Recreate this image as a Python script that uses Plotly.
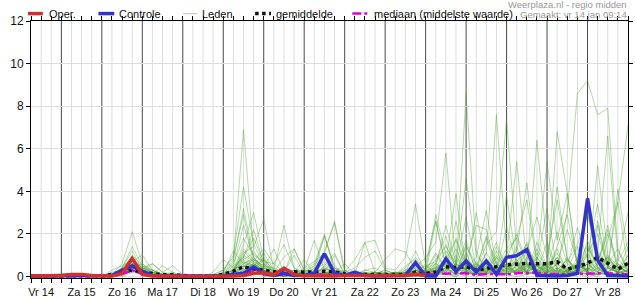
import pandas as pd
import plotly.graph_objects as go

# ---------------- data ----------------
times = pd.date_range("2022-01-14 06:00", periods=60, freq="6h")
label_dates = pd.date_range("2022-01-14 12:00", periods=15, freq="D")
day_labels = ["Vr 14", "Za 15", "Zo 16", "Ma 17", "Di 18", "Wo 19", "Do 20", "Vr 21",
              "Za 22", "Zo 23", "Ma 24", "Di 25", "Wo 26", "Do 27", "Vr 28"]
grid_times = pd.date_range("2022-01-14 06:00", "2022-01-28 18:00", freq="6h")
y_ticks = [0, 2, 4, 6, 8, 10, 12]

oper = [0.02, 0.02, 0.03, 0.05, 0.1, 0.1, 0.05, 0.02,
        0.02, 0.15, 0.85, 0.1, 0.02, 0.02, 0, 0, 0, 0, 0, 0,
        0.02, 0.05, 0.15, 0.18, 0.08, 0.38, 0.1, 0.03, 0.02, 0.02,
        0.02, 0.05, 0.05, 0.08, 0.08, 0.08, 0.08, 0.05, 0.1, 0.05]

controle = [0.02, 0.02, 0.02, 0.03, 0.05, 0.05, 0.03, 0.02,
            0.05, 0.3, 0.5, 0.25, 0.05, 0.02, 0.02, 0, 0, 0, 0, 0.02,
            0.1, 0.15, 0.45, 0.15, 0.05, 0.15, 0.05, 0.05, 0.15, 1.07,
            0.15, 0.05, 0.2, 0.05, 0.02, 0.02, 0.02, 0.05, 0.65, 0.02,
            0.02, 0.83, 0.23, 0.73, 0.2, 0.73, 0.1, 0.9, 0.98, 1.27,
            0.05, 0.02, 0.02, 0.05, 0.15, 3.67, 0.77, 0.05, 0.02, 0.02]

gemiddelde = [0.02, 0.03, 0.05, 0.05, 0.05, 0.05, 0.03, 0.03,
              0.1, 0.2, 0.3, 0.2, 0.12, 0.08, 0.08, 0.03, 0.02, 0.02, 0.03, 0.1,
              0.25, 0.46, 0.35, 0.3, 0.22, 0.25, 0.22, 0.2, 0.22, 0.25,
              0.22, 0.12, 0.1, 0.1, 0.1, 0.08, 0.08, 0.1, 0.2, 0.15,
              0.2, 0.46, 0.42, 0.46, 0.3, 0.4, 0.46, 0.55, 0.6, 0.62,
              0.6, 0.6, 0.69, 0.35, 0.46, 0.62, 0.9, 0.62, 0.35, 0.62]

mediaan = [0, 0, 0.02, 0.03, 0.03, 0.03, 0, 0,
           0.02, 0.1, 0.3, 0.12, 0.05, 0.02, 0.02, 0, 0, 0, 0, 0.02,
           0.08, 0.2, 0.22, 0.1, 0.08, 0.1, 0.08, 0.05, 0.08, 0.1,
           0.08, 0.05, 0.03, 0.05, 0.05, 0.05, 0.05, 0.05, 0.1, 0.08,
           0.12, 0.15, 0.15, 0.15, 0.08, 0.12, 0.12, 0.1, 0.15, 0.18,
           0.18, 0.12, 0.1, 0.1, 0.12, 0.15, 0.15, 0.15, 0.12, 0.1]

leden = [
    [0, 0, 0, 0.05, 0.1, 0.05, 0, 0, 0, 0.2, 0.5, 0.2, 0.1, 0, 0, 0, 0, 0, 0, 0.2, 0.8, 6.9, 1.2, 0.5,
     0.1, 0.3, 0, 0, 0.1, 0.2, 0, 0, 0, 0, 0.1, 0, 0, 0.1,
     0.2, 0, 0.3, 0.8, 0.2, 1.1, 0.1, 0.3, 1.4, 0.4, 0.1, 1.6, 0.3, 0.6, 0.2, 3.1, 8.6, 9.2, 7.6, 7.9, 1.2, 0.3],
    [0, 0, 0.05, 0.05, 0.05, 0.05, 0, 0, 0.05, 0.3, 0.8, 0.4, 0.2, 0.1, 0, 0, 0, 0, 0.05, 0.3, 1.0, 4.2, 1.5, 0.6,
     0.2, 0, 0.2, 0.1, 0, 0.5, 0.1, 0, 0, 0.1, 0, 0.2, 0, 0.1,
     0.3, 0.1, 0.6, 1.5, 0.4, 8.6, 1.2, 0.2, 0.5, 0.1, 0.8, 0.2, 1.6, 0.5, 0.1, 0.3, 1.4, 0.2, 0.6, 2.4, 0.3, 0.1],
    [0, 0, 0, 0, 0.05, 0.1, 0.05, 0, 0, 0.4, 1.4, 0.5, 0.2, 0, 0.1, 0, 0, 0, 0, 0.1, 0.5, 2.4, 0.9, 0.4,
     0.3, 2.4, 0.4, 0.1, 0, 0.1, 0.3, 0, 0, 0, 0.1, 0, 0, 0.2,
     0.6, 0.1, 0.2, 0.4, 1.8, 0.5, 0.2, 1.1, 7.6, 1.2, 0.3, 0.6, 0.1, 0.2, 0.9, 0.2, 0.5, 1.5, 0.4, 0.1, 0.7, 1.6],
    [0, 0.05, 0.1, 0.1, 0.05, 0, 0, 0, 0.1, 0.2, 0.6, 0.3, 0.6, 0.2, 0.1, 0, 0, 0, 0, 0.1, 0.3, 1.5, 3.0, 0.8,
     0.1, 0.2, 0, 0.3, 0.6, 2.0, 0.2, 0, 0, 0, 0.2, 0.1, 0, 0.3,
     0.4, 0.9, 1.6, 5.8, 0.5, 1.7, 0.2, 0.8, 0.3, 2.3, 0.6, 0.2, 1.3, 0.4, 2.1, 0.6, 0.2, 1.1, 2.0, 0.5, 0.2, 1.0],
    [0, 0, 0.05, 0.05, 0.1, 0.1, 0.05, 0, 0.05, 0.2, 0.5, 0.2, 0.1, 0.5, 0.2, 0, 0, 0, 0, 0, 0.2, 1.1, 1.4, 2.7,
     0.3, 0.1, 0.1, 0.4, 0.7, 1.1, 2.6, 0.3, 0, 0.1, 0, 0, 0.2, 0.1,
     0.1, 0.3, 1.0, 0.4, 1.3, 0.2, 0.7, 0.1, 0.4, 1.1, 1.8, 0.5, 6.4, 1.4, 0.3, 0.8, 0.1, 1.7, 0.4, 0.9, 0.2, 1.4],
    [0, 0, 0, 0.05, 0.05, 0.05, 0, 0, 0, 0.3, 1.0, 0.5, 0.3, 0.1, 0.05, 0, 0, 0, 0.05, 0.15, 0.6, 1.8, 1.0, 0.7,
     0.6, 0.2, 1.0, 0.1, 0, 0.2, 0.1, 0, 0.1, 1.6, 0.2, 0, 0.1, 0.2,
     1.2, 0.2, 0.3, 0.8, 0.2, 1.4, 0.6, 0.1, 1.2, 0.3, 0.8, 0.1, 0.5, 0.2, 6.8, 3.9, 0.6, 0.3, 1.1, 0.2, 0.6, 0.1],
    [0, 0, 0, 0, 0, 0.05, 0, 0, 0.1, 0.6, 2.1, 0.6, 0.2, 0.05, 0, 0, 0, 0, 0, 0, 0.1, 0.6, 0.8, 0.3,
     0.1, 0, 0.1, 0, 0, 0.2, 1.0, 0.1, 0, 0, 0, 0, 0, 0,
     0.1, 0, 0.1, 0.2, 0, 0.4, 0.1, 0.2, 0.1, 1.0, 5.4, 0.6, 0.1, 0.3, 0.1, 0.2, 0.7, 0.1, 0, 0.4, 0.2, 0.1],
    [0, 0.05, 0.05, 0, 0, 0, 0, 0, 0, 0.4, 1.2, 0.3, 0.1, 0, 0, 0, 0, 0, 0.2, 0.8, 0.4, 0.9, 2.2, 0.6,
     0.1, 0.5, 0, 0, 0.3, 1.9, 0.5, 0.1, 0, 0, 0, 0.1, 0, 0,
     0, 0.2, 0.1, 0.6, 0.2, 0, 0.4, 1.8, 0.2, 0.1, 0.7, 0.2, 0.5, 0.1, 1.3, 0.2, 0.6, 3.0, 1.1, 6.6, 0.8, 0.3],
    [0, 0, 0.1, 0.15, 0.1, 0, 0, 0, 0.05, 0.2, 0.7, 1.0, 0.3, 0.1, 0, 0, 0, 0, 0, 0.1, 0.3, 0.7, 0.5, 1.1,
     0.3, 0.1, 0.3, 0.2, 0.5, 1.2, 2.5, 0.2, 0, 0.1, 0, 0, 0.2, 0,
     0.3, 0.1, 2.6, 0.4, 0.1, 0.8, 0.2, 0.5, 0.1, 0.3, 1.4, 0.2, 0.6, 3.2, 0.3, 0.1, 0.5, 1.1, 0.2, 1.7, 3.5, 7.1],
    [0, 0, 0, 0.05, 0.05, 0, 0, 0, 0, 0.1, 0.5, 0.2, 0.1, 0, 0, 0, 0, 0, 0, 0.05, 0.2, 0.9, 0.6, 0.3,
     0, 0.1, 0.2, 0, 0.1, 0.3, 0.4, 0.2, 0.8, 1.6, 1.7, 0.4, 0.3, 0.9,
     3.4, 0.5, 0.2, 0.7, 3.9, 0.3, 0.1, 0.6, 0.2, 0.4, 0.1, 0.9, 0.2, 0.1, 0.6, 0.2, 0.1, 0.4, 0.1, 0.8, 0.2, 0.1],
    [0, 0, 0, 0, 0.05, 0.05, 0, 0, 0, 0.15, 0.4, 0.2, 0, 0, 0, 0, 0, 0, 0, 0, 0.1, 0.5, 0.4, 0.2,
     0.1, 0, 0, 0.1, 0, 0, 0.2, 0.1, 0, 0, 0, 0.1, 0.1, 0.4,
     0.9, 0.3, 2.9, 1.0, 0.2, 0.6, 0.3, 1.5, 2.1, 7.4, 1.2, 0.2, 0.5, 0.1, 0.3, 0.1, 0.9, 0.2, 0.1, 0.2, 0.6, 0.1],
    [0.05, 0.05, 0, 0, 0, 0, 0, 0, 0.1, 0.3, 0.6, 0.2, 0.1, 0, 0.05, 0, 0, 0, 0, 0, 0.2, 1.2, 0.7, 0.4,
     1.3, 0.2, 0, 0.3, 1.7, 0.3, 0.1, 0, 0, 0.2, 0, 0, 0.1, 0.2,
     0.1, 0, 0.4, 0.2, 0.8, 0.3, 0.1, 0.4, 1.0, 0.5, 0.2, 0.5, 0.8, 5.4, 1.7, 3.9, 0.4, 0.2, 1.0, 0.5, 0.2, 0.3],
    [0, 0, 0, 0, 0, 0, 0, 0, 0, 0.2, 0.3, 0.1, 0, 0, 0, 0, 0, 0, 0, 0, 0.05, 0.3, 0.5, 0.2,
     0, 0.1, 0, 0.1, 0, 0.1, 0, 0.1, 0, 0.3, 0.2, 0.8, 1.3, 1.15,
     0.3, 0.1, 0.5, 0.2, 0.4, 0.8, 2.4, 2.2, 0.3, 0.1, 0.5, 0.1, 0.2, 0.6, 0.2, 0.1, 0.3, 0.7, 0.1, 0.1, 0.5, 0.2],
    [0, 0, 0.05, 0.1, 0.1, 0.05, 0, 0, 0.2, 0.3, 0.6, 0.4, 0.6, 0.2, 0.5, 0.1, 0, 0, 0, 0.05, 0.3, 1.3, 0.8, 0.5,
     0.4, 0.2, 1.3, 0.3, 0.1, 0.5, 1.1, 0.1, 0, 0, 0.1, 0, 0, 0.1,
     0.1, 0.6, 2.6, 0.6, 0.2, 0.1, 0.4, 0.2, 0.7, 0.1, 0.3, 1.2, 0.2, 0.5, 0.1, 0.9, 0.2, 0.1, 2.4, 0.4, 0.2, 0.7],
    [0, 0, 0, 0, 0, 0, 0, 0, 0, 0.1, 0.3, 0.1, 0, 0, 0, 0, 0, 0, 0, 0, 0, 0.2, 0.3, 0.1,
     0, 0, 0.1, 0, 0, 0.1, 0.1, 0, 0, 0, 0, 0, 0, 0,
     0, 0, 0.1, 0.1, 0, 0.2, 0.1, 0, 0.2, 0.1, 0, 0.1, 0.3, 0.1, 0, 0.2, 0.1, 0, 0.1, 0.2, 0.1, 0],
    [0, 0, 0, 0, 0.05, 0, 0, 0, 0, 0.2, 0.4, 0.3, 0.1, 0, 0, 0, 0, 0, 0, 0, 0.1, 0.4, 0.6, 0.3,
     0.1, 0.1, 0, 0, 0.1, 0.2, 0.1, 0, 0, 0, 0, 0.1, 0, 0.1,
     0.2, 0.1, 0.2, 0.4, 0.1, 0.9, 0.2, 0.1, 0.5, 1.3, 1.8, 3.6, 0.6, 0.1, 0, 0.3, 0.1, 0.4, 0.2, 0.1, 0.2, 0.1],
    [0, 0, 0, 0, 0, 0, 0, 0, 0, 0.3, 0.7, 0.3, 0.1, 0, 0, 0, 0, 0, 0, 0, 0.2, 0.7, 0.4, 0.2,
     0.1, 0.1, 0.3, 0.1, 0, 0.1, 0.2, 0.1, 0, 0.1, 0.1, 0.3, 0.1, 0.1,
     0.5, 0.2, 0.1, 0.3, 0.6, 0.2, 0.1, 0.4, 0.2, 0.1, 0.5, 0.2, 1.1, 0.4, 0.1, 0.7, 1.5, 2.9, 0.8, 0.4, 4.1, 1.1],
    [0, 0, 0, 0.05, 0.05, 0, 0, 0, 0.1, 0.4, 0.9, 0.4, 0.2, 0, 0, 0, 0, 0, 0, 0, 0.4, 0.8, 1.1, 0.6,
     0.2, 0.9, 1.3, 0.3, 0.2, 0.1, 0.1, 0.3, 0.1, 0.1, 0, 0.1, 0.2, 0.1,
     0.1, 0.3, 1.1, 0.4, 0.1, 0.5, 0.2, 0.8, 0.3, 0.6, 0.2, 0.4, 0.9, 0.2, 0.6, 0.2, 0.3, 1.0, 3.4, 0.6, 0.3, 0.5],
    [0, 0, 0, 0, 0, 0, 0, 0, 0, 0, 0.2, 0.1, 0, 0, 0, 0, 0, 0, 0, 0, 0, 0.1, 0.2, 0,
     0, 0.1, 0, 0, 0.1, 0.2, 0, 0, 0, 0, 0.1, 0, 0, 0.1,
     0.2, 0, 0.1, 0.3, 0.1, 0.2, 0, 0.4, 0.1, 0.2, 0.5, 0.1, 0.3, 0.1, 0.2, 0.4, 0.2, 0.1, 0.6, 0.2, 0.1, 0.3],
    [0, 0, 0.05, 0.1, 0.05, 0, 0, 0, 0.3, 0.5, 0.8, 0.4, 0.2, 0.1, 0.1, 0, 0, 0, 0, 0.2, 1.2, 0.6, 0.9, 0.3,
     0.1, 0.3, 0.1, 0, 0.4, 0.2, 0.1, 0.1, 0.3, 0.1, 0.1, 0, 0.2, 0.1,
     0.3, 0.1, 0.5, 2.4, 0.6, 0.3, 0.9, 3.1, 0.5, 0.2, 0.3, 0.7, 0.2, 0.5, 1.1, 0.3, 0.1, 0.6, 0.2, 0.9, 0.4, 0.2],
    [0, 0, 0, 0, 0, 0.05, 0.05, 0, 0, 0.2, 0.6, 0.2, 0.1, 0, 0, 0, 0, 0, 0, 0.1, 0.7, 3.2, 0.9, 0.4,
     0.1, 0.1, 0.2, 0.8, 0.1, 0.1, 0, 0.1, 0.1, 0.2, 0.1, 0, 0.1, 0.1,
     0.3, 0.2, 0.8, 1.4, 0.6, 4.6, 1.0, 0.4, 0.2, 0.7, 0.3, 0.5, 0.2, 1.6, 0.4, 0.2, 0.6, 0.3, 1.2, 0.5, 0.2, 1.0],
    [0, 0, 0, 0, 0, 0, 0, 0, 0.05, 0.3, 0.8, 0.3, 0.2, 0.05, 0, 0, 0, 0, 0, 0.05, 0.3, 1.0, 0.7, 1.3,
     0.6, 1.5, 0.4, 0.2, 0.5, 1.9, 0.4, 0.1, 0, 0.1, 0.1, 0.3, 0.1, 0,
     0.2, 0.1, 0.3, 0.6, 0.2, 0.8, 0.4, 0.2, 0.9, 0.3, 0.7, 1.2, 2.8, 0.9, 3.6, 0.8, 0.3, 0.6, 0.2, 1.0, 0.5, 0.2],
    [0, 0, 0.05, 0.05, 0, 0, 0, 0, 0, 0.2, 0.5, 0.3, 0.1, 0, 0, 0, 0, 0, 0, 0, 0.2, 0.5, 0.3, 0.2,
     0.1, 0, 0.1, 0.2, 0.1, 0, 0.1, 0.1, 0, 0.1, 0.2, 0.1, 0, 0.1,
     0.1, 0.3, 0.2, 0.1, 0.4, 0.1, 0.2, 0.6, 0.2, 0.3, 0.1, 0.5, 0.2, 0.1, 0.3, 0.2, 0.6, 0.2, 0.1, 0.4, 0.2, 0.3],
    [0, 0, 0, 0, 0.05, 0.05, 0, 0, 0, 0.1, 0.4, 0.6, 0.3, 0.1, 0.2, 0, 0, 0, 0, 0, 0.1, 0.4, 0.8, 0.5,
     0.1, 0.4, 0.2, 0.1, 0.1, 0.4, 0.2, 0.1, 0.1, 0.3, 0.4, 0.1, 0.1, 0.2,
     0.3, 0.5, 0.7, 1.9, 0.3, 0.6, 0.2, 0.5, 1.6, 0.4, 0.2, 0.6, 0.3, 0.7, 0.2, 0.5, 2.3, 0.8, 0.3, 0.2, 0.5, 0.2],
    [0, 0, 0, 0, 0, 0, 0, 0, 0, 0.2, 0.4, 0.2, 0.05, 0, 0, 0, 0, 0, 0, 0, 0.1, 0.3, 0.6, 0.3,
     0.1, 0.1, 0.1, 0, 0.1, 0.1, 0.3, 0.1, 0, 0, 0.1, 0.1, 0.1, 0,
     0.1, 0.1, 0.3, 0.1, 0.1, 0.2, 0.4, 0.1, 0.3, 0.1, 0.3, 0.2, 0.1, 0.5, 0.2, 0.1, 0.3, 0.1, 0.4, 0.2, 0.1, 0.3],
    [0, 0, 0.05, 0, 0, 0, 0, 0, 0, 0.3, 0.6, 0.2, 0.1, 0, 0, 0, 0, 0, 0, 0, 0.3, 0.6, 0.5, 0.8,
     0.3, 0.1, 0.1, 0.2, 0.1, 0.1, 0.4, 0.1, 0.1, 0, 0.1, 0.1, 0.2, 0.1,
     0.4, 0.2, 0.6, 0.3, 1.0, 0.2, 0.5, 0.2, 0.4, 0.8, 2.0, 0.6, 0.2, 0.4, 0.9, 0.3, 0.2, 0.6, 2.6, 0.4, 0.8, 3.0],
    [0, 0, 0, 0, 0, 0, 0, 0, 0, 0.1, 0.3, 0.2, 0, 0, 0, 0, 0, 0, 0, 0, 0, 0.2, 0.1, 0.1,
     0.1, 0.2, 0.1, 0, 0.1, 0.1, 0.2, 0.1, 0, 0.1, 0.2, 0.1, 0, 0.1,
     0.1, 0.2, 0.3, 0.1, 0.4, 0.2, 0.1, 0.3, 0.2, 0.5, 0.2, 0.1, 0.3, 0.2, 0.4, 0.1, 0.3, 0.2, 0.1, 0.4, 0.2, 0.1],
    [0, 0.05, 0.05, 0.05, 0, 0, 0, 0, 0.1, 0.3, 0.5, 0.4, 0.3, 0.1, 0.1, 0.05, 0, 0, 0, 0, 0.5, 0.9, 1.8, 0.7,
     0.2, 0.1, 0.3, 0.1, 0.4, 0.7, 0.2, 0.6, 0.1, 0.1, 0.2, 0.1, 0.1, 0.3,
     0.6, 0.2, 0.4, 0.8, 1.7, 0.3, 0.6, 0.2, 0.9, 0.5, 0.2, 0.4, 0.7, 0.3, 0.6, 2.2, 0.7, 0.2, 0.5, 0.9, 0.3, 0.6],
    [0, 0, 0, 0, 0, 0, 0, 0, 0, 0.2, 0.5, 0.3, 0.1, 0, 0, 0, 0, 0, 0, 0, 0.2, 0.5, 0.7, 0.4,
     0.1, 0.2, 0.1, 0.1, 0.2, 0.4, 0.1, 0.1, 0, 0.1, 0.1, 0, 0.1, 0.1,
     0.2, 0.1, 0.4, 0.6, 0.2, 1.5, 0.3, 0.1, 0.2, 0.5, 0.2, 0.3, 0.6, 0.2, 0.4, 0.2, 0.5, 0.3, 0.7, 2.0, 0.4, 0.2],
    [0, 0, 0, 0.05, 0.05, 0.05, 0, 0, 0, 0.2, 0.7, 0.3, 0.2, 0.05, 0, 0, 0, 0, 0, 0, 0.2, 0.8, 0.5, 0.3,
     0.1, 0.1, 0.2, 0.1, 0.1, 0.1, 0.1, 0.2, 0.4, 0.9, 1.2, 0.3, 0.1, 0.1,
     0.3, 0.1, 0.3, 0.9, 0.4, 0.2, 0.6, 0.3, 0.1, 0.4, 1.0, 0.2, 0.5, 0.2, 0.3, 0.8, 0.2, 0.1, 0.4, 0.6, 1.3, 0.3],
    [0, 0, 0, 0, 0, 0, 0, 0, 0, 0.1, 0.3, 0.1, 0, 0, 0, 0, 0, 0, 0, 0, 0, 0.3, 0.6, 0.2,
     0, 0.1, 0, 0.1, 0, 0.2, 0, 0, 0, 0.1, 0, 0, 0, 0.2,
     0.5, 0.1, 0.3, 0.2, 0.6, 0.2, 3.0, 0.5, 0.1, 0.4, 1.2, 4.4, 0.7, 0.2, 0.1, 0.3, 0.6, 0.2, 0.1, 0.5, 3.5, 0.4],
    [0, 0, 0, 0, 0, 0, 0, 0, 0, 0.2, 0.5, 0.2, 0.1, 0, 0, 0, 0, 0, 0, 0, 0.1, 0.5, 0.3, 0.9,
     0.2, 0, 0.1, 0, 0.2, 0, 0.3, 0, 0, 0, 0.1, 0.2, 0, 0,
     0.2, 0.4, 0.6, 0.3, 2.6, 0.5, 0.2, 1.1, 0.4, 3.8, 0.6, 0.2, 0.9, 0.3, 1.4, 2.9, 0.5, 0.3, 5.2, 1.0, 0.2, 0.6],
    [0, 0, 0, 0, 0, 0, 0, 0, 0.05, 0.2, 0.4, 0.2, 0.05, 0, 0, 0, 0, 0, 0.1, 0.3, 0.9, 2.9, 0.6, 0.3,
     0.1, 0.2, 0.1, 0, 0.3, 0.6, 0.2, 0, 0, 0.2, 0.1, 0, 0.1, 0.5,
     0.8, 0.3, 0.4, 1.2, 0.5, 2.8, 0.4, 1.9, 0.6, 0.2, 0.9, 1.5, 0.3, 0.6, 4.2, 0.8, 0.2, 1.4, 0.5, 2.2, 0.6, 0.3],
]
for m in leden:
    assert len(m) == 60, len(m)

# ---------------- styling ----------------
W, H = 635, 300
ML, MR, MT, MB = 31, 2, 21, 19
PW, PH = W - ML - MR, H - MT - MB
FONT = "Liberation Sans, Arial, sans-serif"
C_OPER = "#d22f2f"
C_CTRL = "#3333cc"
C_LEDEN = "rgba(70,160,40,0.4)"
C_MEAN = "#111111"
C_MED = "#dd00dd"


def px(x):
    return (x - ML) / PW


def py(y):
    return (H - MB - y) / PH


fig = go.Figure()
for m in leden:
    fig.add_trace(go.Scatter(x=times, y=m, mode="lines", line=dict(color=C_LEDEN, width=1),
                             showlegend=False, hoverinfo="skip"))
fig.add_trace(go.Scatter(x=times, y=gemiddelde, mode="lines", name="gemiddelde",
                         line=dict(color=C_MEAN, width=3.5, dash="dot"), showlegend=False))
fig.add_trace(go.Scatter(x=times, y=mediaan, mode="lines", name="mediaan (middelste waarde)",
                         line=dict(color=C_MED, width=2.5, dash="dashdot"), showlegend=False))
fig.add_trace(go.Scatter(x=times, y=controle, mode="lines", name="Controle",
                         line=dict(color=C_CTRL, width=3.5), showlegend=False))
fig.add_trace(go.Scatter(x=times[:len(oper)], y=oper, mode="lines", name="Oper.",
                         line=dict(color=C_OPER, width=3.5), showlegend=False))

# vertical grid: light every 6 h, dark at midnight
shapes = []
for t in grid_times:
    if t == times[0]:
        continue
    midnight = (t.hour == 0)
    shapes.append(dict(type="line", xref="x", yref="paper", x0=t, x1=t, y0=0, y1=1,
                       line=dict(color="#4a4a4a" if midnight else "#dddddd", width=1),
                       layer="below"))

# custom legend
legend_items = [
    ("Oper.", C_OPER, "solid", 3.5, 28, 43, 47),
    ("Controle", C_CTRL, "solid", 3.5, 99, 115, 118),
    ("Leden", C_LEDEN, "solid", 1.2, 184, 199, 201),
    ("gemiddelde", C_MEAN, "dot", 3.5, 257, 273, 276),
    ("mediaan (middelste waarde)", C_MED, "dashdot", 2.5, 355, 373, 375),
]
annotations = []
LY = 13.5
for name, col, dash, lw, x0, x1, tx in legend_items:
    shapes.append(dict(type="line", xref="paper", yref="paper", x0=px(x0), x1=px(x1),
                       y0=py(LY), y1=py(LY), line=dict(color=col, width=lw, dash=dash)))
    annotations.append(dict(text=name, xref="paper", yref="paper", x=px(tx), y=py(LY),
                            xanchor="left", yanchor="middle", showarrow=False,
                            font=dict(family=FONT, size=11, color="#111111")))

annotations.append(dict(text="Weerplaza.nl - regio midden", xref="paper", yref="paper",
                        x=px(634), y=py(4), xanchor="right", yanchor="middle", showarrow=False,
                        font=dict(family=FONT, size=9.5, color="#999999")))
annotations.append(dict(text="Gemaakt: vr 14 jan 09:14", xref="paper", yref="paper",
                        x=px(634), y=py(14), xanchor="right", yanchor="middle", showarrow=False,
                        font=dict(family=FONT, size=9.5, color="#999999")))

fig.update_layout(
    width=W, height=H,
    margin=dict(l=ML, r=MR, t=MT, b=MB, pad=0),
    paper_bgcolor="white", plot_bgcolor="white",
    showlegend=False,
    shapes=shapes, annotations=annotations,
    font=dict(family=FONT, color="#111111"),
)
fig.update_xaxes(
    type="date",
    range=[times[0], pd.Timestamp("2022-01-29 00:00")],
    tickmode="array", tickvals=label_dates, ticktext=day_labels,
    ticks="outside", ticklen=4, tickcolor="#000000",
    tickfont=dict(family=FONT, size=11, color="#111111"),
    showgrid=False, showline=True, linecolor="#000000", linewidth=1, mirror="ticks",
    zeroline=False,
    minor=dict(dtick=6 * 3600 * 1000, tick0="2022-01-14 06:00", ticks="outside", ticklen=4,
               tickcolor="#000000", showgrid=False),
)
fig.update_yaxes(
    range=[-0.07, 12], tickmode="array", tickvals=y_ticks,
    ticks="outside", ticklen=4, tickcolor="#000000",
    tickfont=dict(family=FONT, size=12, color="#111111"),
    showgrid=True, gridcolor="#dddddd", gridwidth=1,
    showline=True, linecolor="#000000", linewidth=1, mirror="ticks",
    zeroline=False,
)

fig.write_html("out.html")
